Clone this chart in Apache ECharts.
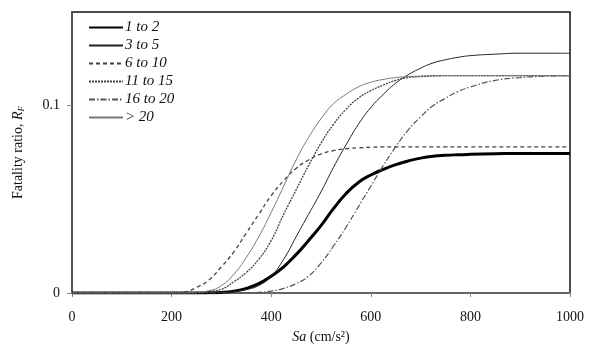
<!DOCTYPE html>
<html>
<head>
<meta charset="utf-8">
<script src="https://cdn.jsdelivr.net/npm/echarts@6/dist/echarts.min.js"></script>
<style>
  html, body { margin: 0; padding: 0; background: #fff; }
  #main { width: 589px; height: 351px; }
</style>
</head>
<body>
<div id="main"></div>
<script>
// Sa (cm/s2) sample points
var sa = [0,100,200,225,250,275,300,325,350,375,400,425,450,475,500,525,550,575,600,625,650,675,700,725,750,775,800,850,900,950,1000];

// fatality ratio R_F for each group
var rf12   = [0,0,0,0,0,0.0001,0.0003,0.001,0.0025,0.005,0.009,0.014,0.0205,0.028,0.036,0.045,0.053,0.059,0.063,0.066,0.0685,0.0705,0.072,0.073,0.0735,0.0738,0.074,0.0743,0.0745,0.0745,0.0745];
var rf35   = [0,0,0,0,0,0,0.0003,0.0008,0.0018,0.004,0.009,0.018,0.030,0.042,0.054,0.067,0.079,0.090,0.099,0.106,0.112,0.1165,0.120,0.1228,0.1245,0.1258,0.1267,0.1275,0.128,0.128,0.128];
var rf610  = [0,0,0,0.0005,0.003,0.007,0.014,0.022,0.032,0.042,0.052,0.060,0.0665,0.071,0.0742,0.076,0.077,0.0775,0.0778,0.078,0.078,0.078,0.078,0.078,0.078,0.078,0.078,0.078,0.078,0.078,0.078];
var rf1115 = [0,0,0,0,0,0.0008,0.002,0.006,0.011,0.018,0.028,0.042,0.055,0.068,0.080,0.090,0.098,0.104,0.108,0.111,0.1135,0.115,0.1155,0.1158,0.116,0.116,0.116,0.116,0.116,0.116,0.116];
var rf1620 = [0,0,0,0,0,0,0,0,0,0.0003,0.001,0.0025,0.005,0.009,0.016,0.025,0.035,0.046,0.057,0.068,0.078,0.087,0.094,0.100,0.104,0.1075,0.110,0.1135,0.115,0.1157,0.116];
var rf20   = [0,0,0,0,0.0005,0.0012,0.004,0.010,0.019,0.030,0.043,0.057,0.071,0.083,0.093,0.101,0.106,0.110,0.1125,0.114,0.115,0.1155,0.1158,0.116,0.116,0.116,0.116,0.116,0.116,0.116,0.116];

var names = ['1 to 2', '3 to 5', '6 to 10', '11 to 15', '16 to 20', '> 20'];

function pairs(ys){
  var out = [];
  for (var i = 0; i < sa.length; i++){
    out.push([sa[i], ys[i]]);
  }
  return out;
}

function mkSeries(name, ys, style){
  return {
    name: name,
    type: 'line',
    data: pairs(ys),
    smooth: 0.5,
    symbol: 'none',
    lineStyle: style,
    itemStyle: { color: style.color },
    z: 3
  };
}

var serif = 'Liberation Serif';
var myChart = echarts.init(document.getElementById('main'));

var option = {
  animation: false,
  backgroundColor: '#fff',
  grid: {
    left: 72, right: 19, top: 12, bottom: 58,
    show: true, borderColor: '#111', borderWidth: 1.5
  },
  legend: {
    orient: 'vertical',
    left: 83, top: 15,
    itemWidth: 34, itemHeight: 8, itemGap: 3,
    data: names,
    itemStyle: { opacity: 0 },
    textStyle: { fontFamily: serif, fontStyle: 'italic', fontSize: 15, color: '#111', padding: [0,0,0,-3] }
  },
  xAxis: {
    type: 'value',
    min: 0, max: 1000, interval: 200,
    name: '{i|Sa} (cm/s²)',
    nameLocation: 'middle',
    nameGap: 37,
    nameTextStyle: {
      fontFamily: serif, fontSize: 14, color: '#111',
      rich: { i: { fontFamily: serif, fontStyle: 'italic', fontSize: 14, color: '#111' } }
    },
    axisLine: { lineStyle: { color: '#666', width: 2 } },
    axisTick: { show: true, length: 4, lineStyle: { color: '#888' } },
    axisLabel: {
      fontFamily: serif, fontSize: 14, color: '#111', margin: 17,
      formatter: function(v){ return String(v); }
    },
    splitLine: { show: false }
  },
  yAxis: {
    type: 'value',
    min: 0, max: 0.15, interval: 0.1,
    name: 'Fatality ratio, {i|R}{s|F}',
    nameLocation: 'middle',
    nameGap: 46,
    nameTextStyle: {
      fontFamily: serif, fontSize: 14, color: '#111',
      rich: {
        i: { fontFamily: serif, fontStyle: 'italic', fontSize: 14, color: '#111' },
        s: { fontFamily: serif, fontStyle: 'italic', fontSize: 9, color: '#111', padding: [7,0,0,0] }
      }
    },
    axisLine: { show: true, lineStyle: { color: '#555', width: 2 } },
    axisTick: { show: true, length: 5, lineStyle: { color: '#888' } },
    axisLabel: {
      fontFamily: serif, fontSize: 14, color: '#111', margin: 12,
      showMaxLabel: false,
      formatter: function(v){ return v === 0 ? '0' : (Math.abs(v - 0.1) < 1e-9 ? '0.1' : ''); }
    },
    splitLine: { show: false }
  },
  series: [
    mkSeries(names[0], rf12,   { color: '#000', width: 3, type: 'solid' }),
    mkSeries(names[1], rf35,   { color: '#222', width: 1, type: 'solid' }),
    mkSeries(names[2], rf610,  { color: '#444', width: 1.3, type: [4, 3] }),
    mkSeries(names[3], rf1115, { color: '#444', width: 1.3, type: [2, 1] }),
    mkSeries(names[4], rf1620, { color: '#555', width: 1.2, type: [6, 2, 1.5, 2] }),
    mkSeries(names[5], rf20,   { color: '#777', width: 1, type: 'solid' })
  ]
};

myChart.setOption(option);
</script>
</body>
</html>
